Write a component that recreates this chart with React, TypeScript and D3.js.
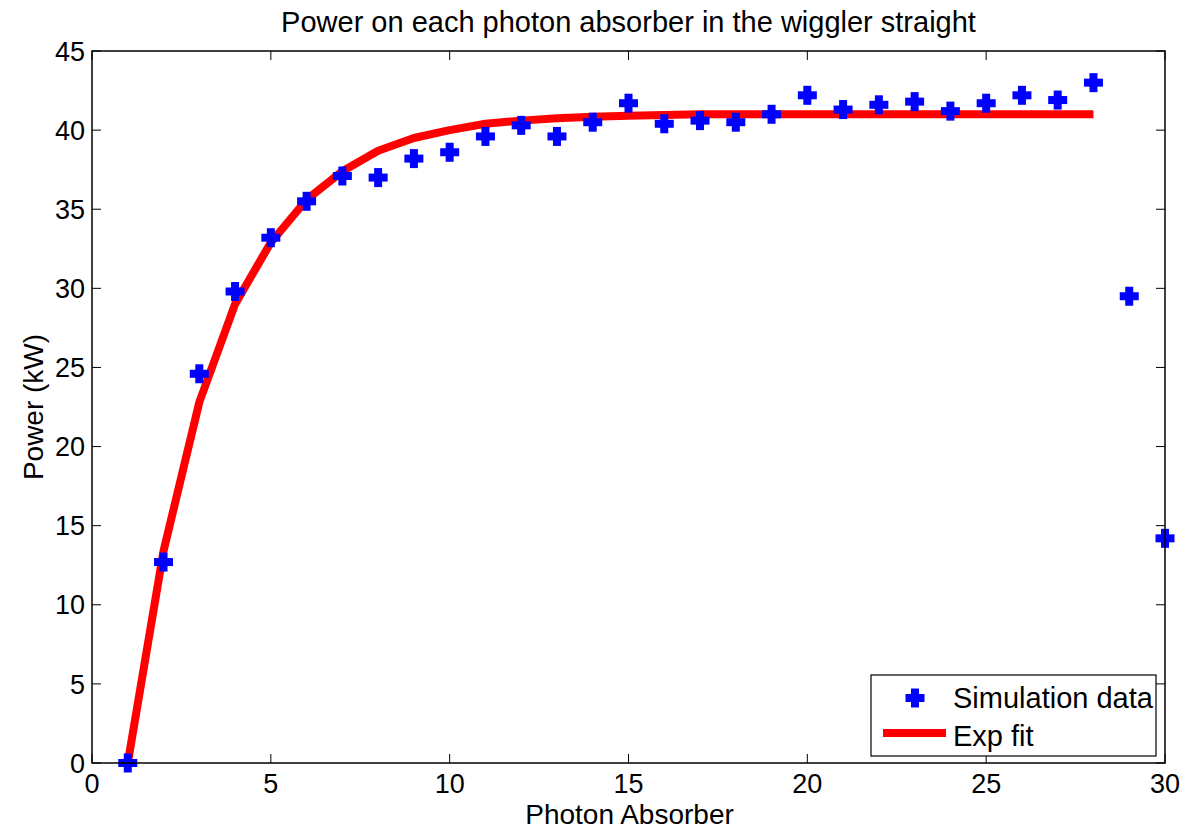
import React from "react";
import * as d3 from "d3";

const absorbers = d3.range(1, 31);
const simPower = [0, 12.7, 24.6, 29.8, 33.2, 35.5, 37.1, 37.0, 38.2, 38.6, 39.6, 40.3, 39.6, 40.5, 41.7, 40.4, 40.6, 40.5, 41.0, 42.2, 41.3, 41.6, 41.8, 41.2, 41.7, 42.2, 41.9, 43.0, 29.5, 14.2];
const fitX = d3.range(1, 29);
const fitPower = [0, 13.4, 22.8, 29.0, 32.9, 35.6, 37.4, 38.7, 39.5, 40.0, 40.4, 40.6, 40.75, 40.85, 40.9, 40.95, 41.0, 41.0, 41.0, 41.0, 41.0, 41.0, 41.0, 41.0, 41.0, 41.0, 41.0, 41.0];
const xTicks = [0, 5, 10, 15, 20, 25, 30];
const yTicks = [0, 5, 10, 15, 20, 25, 30, 35, 40, 45];
const title = "Power on each photon absorber in the wiggler straight";
const xLabel = "Photon Absorber";
const yLabel = "Power (kW)";
const legendLabels = ["Simulation data", "Exp fit"];

const W = 1197, H = 830;
const L = 92, R = 1165, T = 51, B = 763;
const FONT = "'Liberation Sans', Arial, Helvetica, sans-serif";

function Cross({ cx, cy }: { cx: number; cy: number }) {
  const h = 9.5, t = 4;
  return (
    <g fill="#0000ff">
      <rect x={cx - h} y={cy - t} width={2 * h} height={2 * t} />
      <rect x={cx - t} y={cy - h} width={2 * t} height={2 * h} />
    </g>
  );
}

export default function App() {
  const x = d3.scaleLinear().domain([0, 30]).range([L, R]);
  const y = d3.scaleLinear().domain([0, 45]).range([B, T]);
  const line = d3.line<number>().x((_, i) => x(fitX[i])).y((d) => y(d));
  const tl = 9;
  return (
    <svg width={W} height={H} style={{ position: "absolute", left: 0, top: 0, background: "#fff" }} fontFamily={FONT}>
      <rect x={0} y={0} width={W} height={H} fill="#fff" />
      <text x={(L + R) / 2} y={32} textAnchor="middle" fontSize={29}>{title}</text>
      {xTicks.map((t) => (
        <g key={"x" + t}>
          <line x1={x(t)} x2={x(t)} y1={B} y2={B - tl} stroke="#000" strokeWidth={1} />
          <line x1={x(t)} x2={x(t)} y1={T} y2={T + tl} stroke="#000" strokeWidth={1} />
          <text x={x(t)} y={792.5} textAnchor="middle" fontSize={27}>{t}</text>
        </g>
      ))}
      {yTicks.map((t) => (
        <g key={"y" + t}>
          <line x1={L} x2={L + tl} y1={y(t)} y2={y(t)} stroke="#000" strokeWidth={1} />
          <line x1={R} x2={R - tl} y1={y(t)} y2={y(t)} stroke="#000" strokeWidth={1} />
          <text x={85} y={y(t)} dy="0.36em" textAnchor="end" fontSize={27}>{t}</text>
        </g>
      ))}
      <path d={line(fitPower) || ""} fill="none" stroke="#ff0000" strokeWidth={8} strokeLinejoin="round" />
      {simPower.map((v, i) => (
        <Cross key={i} cx={x(absorbers[i])} cy={y(v)} />
      ))}
      <rect x={L} y={T} width={R - L} height={B - T} fill="none" stroke="#000" strokeWidth={1.5} />
      <text x={(L + R) / 2 + 1} y={824} textAnchor="middle" fontSize={28}>{xLabel}</text>
      <text transform={`translate(43,${(T + B) / 2}) rotate(-90)`} textAnchor="middle" fontSize={28}>{yLabel}</text>
      <g>
        <rect x={871} y={675} width={285} height={81} fill="#fff" stroke="#000" strokeWidth={1.2} />
        <Cross cx={915} cy={698} />
        <text x={953} y={708} fontSize={29}>{legendLabels[0]}</text>
        <line x1={883} x2={946} y1={733} y2={733} stroke="#ff0000" strokeWidth={8} />
        <text x={953} y={746} fontSize={29}>{legendLabels[1]}</text>
      </g>
    </svg>
  );
}
